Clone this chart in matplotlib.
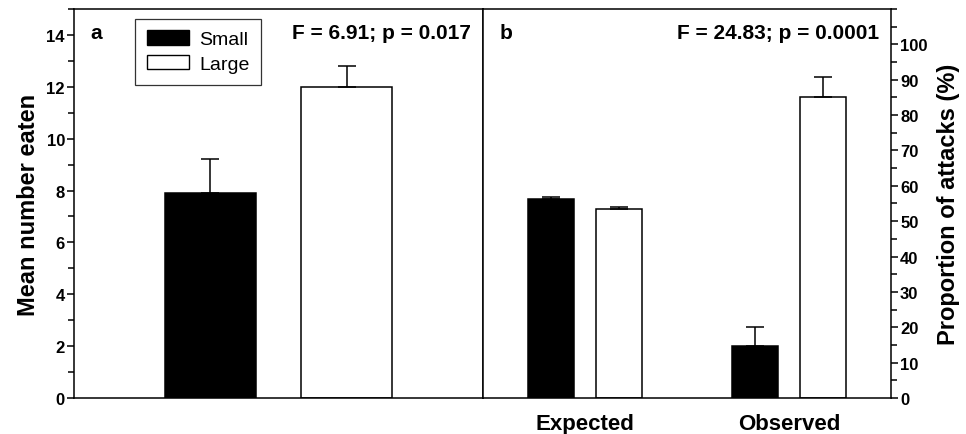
import matplotlib.pyplot as plt
from matplotlib.patches import Patch
from matplotlib.ticker import MultipleLocator

plt.rcParams['font.family'] = ['Liberation Sans', 'DejaVu Sans']

# panel a: mean number eaten
size_labels = ["Small", "Large"]
eaten_mean = [7.9, 12.0]
eaten_se = [1.33, 0.8]

# panel b: proportion of attacks (%)
groups = ["Expected", "Observed"]
small_pct = [56.4, 14.7]
small_se = [0.5, 5.4]
large_pct = [53.5, 85.0]
large_se = [0.4, 5.8]

fig = plt.figure(figsize=(9.66, 4.35), dpi=100)
ax1 = fig.add_axes([0.0766, 0.0828, 0.4234, 0.8942])
ax2 = fig.add_axes([0.5, 0.0828, 0.4224, 0.8942])

lw = 1.1
ekw = dict(ecolor="black", elinewidth=lw, capsize=6.5, capthick=lw)
tick_fs = 12

# --- panel a
ax1.bar([1], eaten_mean[:1], width=0.667, color="black", edgecolor="black", linewidth=lw,
        yerr=[[0], eaten_se[:1]], error_kw=ekw)
ax1.bar([2], eaten_mean[1:], width=0.667, color="white", edgecolor="black", linewidth=lw,
        yerr=[[0], eaten_se[1:]], error_kw=ekw)
ax1.set_xlim(0, 3)
ax1.set_ylim(0, 15)
ax1.set_xticks([])
ax1.set_yticks(range(0, 15, 2))
ax1.yaxis.set_minor_locator(MultipleLocator(1))
ax1.tick_params(axis="y", which="major", direction="out", length=5, width=lw,
                labelsize=tick_fs, pad=1.5)
ax1.tick_params(axis="y", which="minor", direction="out", length=4.5, width=lw)
for t in ax1.get_yticklabels():
    t.set_fontweight("bold")
ax1.set_ylabel("Mean number eaten", fontsize=17, fontweight="bold", labelpad=5)
ax1.text(0.04, 0.965, "a", transform=ax1.transAxes, fontsize=15, fontweight="bold",
         va="top", ha="left")
ax1.text(0.97, 0.965, "F = 6.91; p = 0.017", transform=ax1.transAxes, fontsize=15,
         fontweight="bold", va="top", ha="right")
handles = [Patch(facecolor="black", edgecolor="black", label=size_labels[0]),
           Patch(facecolor="white", edgecolor="black", label=size_labels[1])]
leg = ax1.legend(handles=handles, loc="upper left", bbox_to_anchor=(0.149, 0.975),
                 fontsize=14, frameon=True, fancybox=False, edgecolor="black",
                 handlelength=2.2, handleheight=0.75, handletextpad=0.5,
                 borderpad=0.6, labelspacing=0.35, borderaxespad=0)
leg.get_frame().set_linewidth(0.9)

# --- panel b
xs = [1, 3]
off = 0.33
ax2.bar([x - off for x in xs], small_pct, width=0.45, color="black", edgecolor="black",
        linewidth=lw, yerr=[[0, 0], small_se], error_kw=ekw)
ax2.bar([x + off for x in xs], large_pct, width=0.45, color="white", edgecolor="black",
        linewidth=lw, yerr=[[0, 0], large_se], error_kw=ekw)
ax2.set_xlim(0, 4)
ax2.set_ylim(0, 110)
ax2.set_xticks(xs)
ax2.set_xticklabels(groups, fontsize=16, fontweight="bold")
ax2.tick_params(axis="x", length=0, pad=11)
ax2.yaxis.tick_right()
ax2.yaxis.set_label_position("right")
ax2.set_yticks(range(0, 101, 10))
ax2.yaxis.set_minor_locator(MultipleLocator(5))
ax2.tick_params(axis="y", which="major", direction="out", length=5, width=lw,
                labelsize=tick_fs, pad=1.5)
ax2.tick_params(axis="y", which="minor", direction="out", length=4.5, width=lw)
for t in ax2.get_yticklabels():
    t.set_fontweight("bold")
ax2.set_ylabel("Proportion of attacks (%)", fontsize=17, fontweight="bold", labelpad=7)
ax2.text(0.04, 0.965, "b", transform=ax2.transAxes, fontsize=15, fontweight="bold",
         va="top", ha="left")
ax2.text(0.97, 0.965, "F = 24.83; p = 0.0001", transform=ax2.transAxes, fontsize=15,
         fontweight="bold", va="top", ha="right")

for ax in (ax1, ax2):
    for s in ax.spines.values():
        s.set_linewidth(lw)

fig.savefig("out.png", dpi=100)
